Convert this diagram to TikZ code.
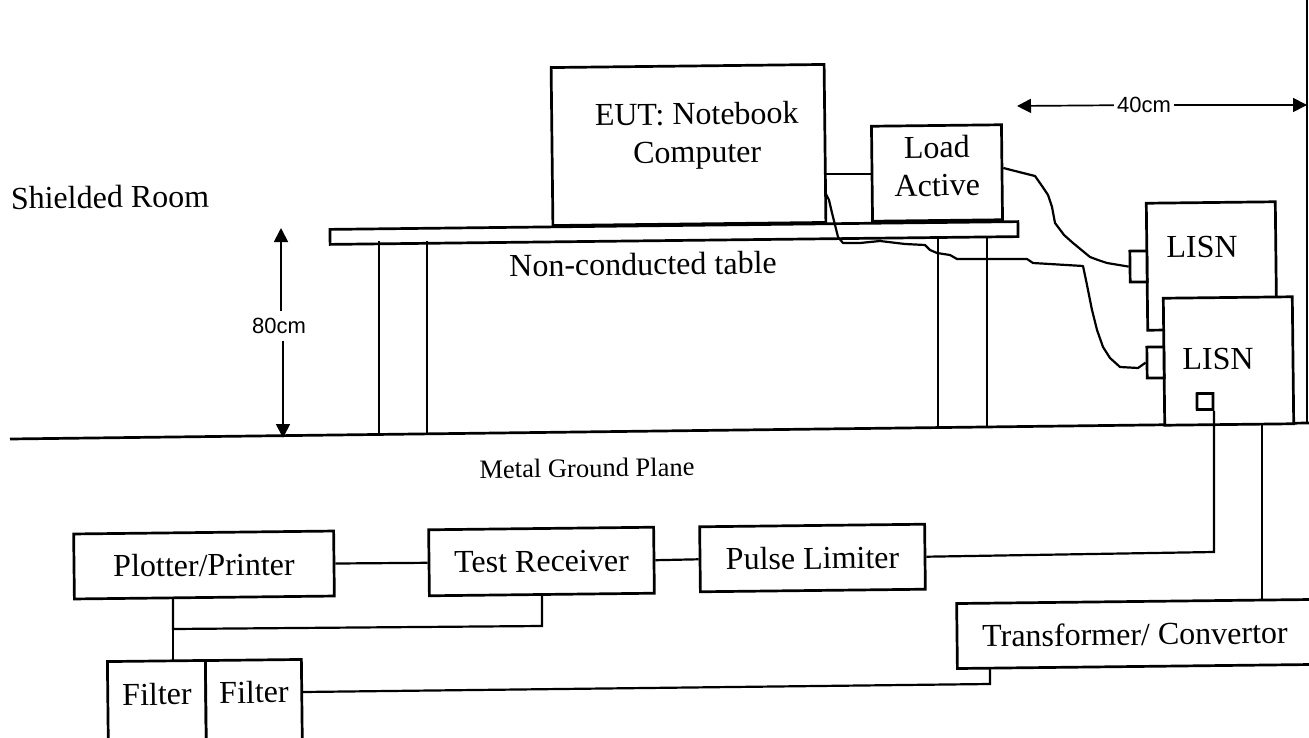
\documentclass[tikz,border=0pt]{standalone}
\usepackage{fontspec}
\setmainfont{Liberation Serif}
\newfontfamily\dimfont{Liberation Sans}
\usetikzlibrary{arrows.meta}
\tikzset{
  boxx/.style={draw=black,fill=white,line width=2.7pt,inner sep=0pt,rotate=0.65,font=\fontsize{32}{38}\selectfont,align=center},
  txt/.style={inner sep=0pt,rotate=0.65,font=\fontsize{32}{38}\selectfont,align=center},
  small/.style={inner sep=0pt,rotate=0.65,font=\fontsize{26.5}{30}\selectfont},
  dimtxt/.style={inner sep=3pt,font=\dimfont\fontsize{22}{24}\selectfont},
  wire/.style={draw=black,line width=2.2pt,line join=miter},
  cable/.style={draw=black,line width=2.2pt,line join=round},
  dimline/.style={draw=black,line width=1.7pt,-{Triangle[length=14pt,width=14pt]}}
}
\begin{document}
\begin{tikzpicture}[x=1pt,y=-1pt]
\useasboundingbox (0,0) rectangle (1309,738);
\clip (0,0) rectangle (1309,738);
% ground and wall
\coordinate (gl) at (10,439);
\coordinate (gr) at (1309,423);
\coordinate (wt) at (1307,0);
\coordinate (wb) at (1307,423);
\draw[wire,line width=2.7pt] (gl) -- (gr);
\draw[wire,line width=2.7pt] (wt) -- (wb);
% table
\node[boxx,minimum width=688pt,minimum height=15pt] (table) at (674,233) {};
\foreach \n/\x/\a/\b in {l1/379/241/436, l2/427/241/435, l3/938/238/429, l4/987/238/428}{
  \coordinate (\n t) at (\x,\a);
  \coordinate (\n b) at (\x,\b);
  \draw[wire,line width=2.5pt] (\n t) -- (\n b);
}
% equipment on the table
\node[boxx,minimum width=273pt,minimum height=158pt] (eut) at (688.5,145) {};
\node[txt] (euttxt) at (697,136) {EUT: Notebook\\Computer};
\node[boxx,minimum width=130pt,minimum height=95pt] (load) at (937,173) {};
\node[txt] (loadtxt) at (937,166) {Load\\Active};
\draw[wire] (eut.east |- load.west) -- (load.west);
% LISNs
\node[boxx,minimum width=129pt,minimum height=127pt] (lisnb) at (1211.5,266) {};
\node[txt] (lisnbtxt) at (1202,247) {LISN};
\node[boxx,minimum width=129pt,minimum height=127pt] (lisnf) at (1228.5,361) {};
\node[txt] (lisnftxt) at (1218,359) {LISN};
\node[boxx,minimum width=17pt,minimum height=31pt] (plugb) at (1138.5,266.5) {};
\node[boxx,minimum width=17pt,minimum height=31pt] (plugf) at (1155.5,362.5) {};
\node[boxx,minimum width=16pt,minimum height=16pt] (sq) at (1205,401.5) {};
% cables
\draw[cable] (load.east |- 0,168) -- (1019,172) -- (1035,176) -- (1042,186) -- (1048,195) -- (1052,207) -- (1055,223) -- (1064,235) -- (1073,243) -- (1090,257) -- (1098,260) -- (1107,263) -- (plugb.west);
\draw[cable] (825,192) -- (829,200) -- (832,213) -- (838,237) -- (843,243) -- (860,243) -- (880,241) -- (905,244) -- (925,245) -- (930,250) -- (937,253) -- (950,255) -- (957,259) -- (1027,259) -- (1033,263) -- (1083,266) -- (1087,285) -- (1092,310) -- (1097,330) -- (1103,347) -- (1110,358) -- (1120,367) -- (1138,368) -- (plugf.west);
% dimensions
\node[dimtxt] (d40) at (1144,105) {40cm};
\coordinate (d40l) at (1017,106);
\coordinate (d40r) at (1307,105);
\draw[dimline] (d40) -- (d40l);
\draw[dimline] (d40) -- (d40r);
\node[dimtxt,inner sep=7pt] (d80) at (279,326) {80cm};
\coordinate (d80t) at (281,228);
\coordinate (d80b) at (283,438);
\draw[dimline] (d80t |- d80.north) -- (d80t);
\draw[dimline] (d80b |- d80.south) -- (d80b);
% labels
\node[txt] (room) at (110,197) {Shielded Room};
\node[txt] (nct) at (643,264) {Non-conducted table};
\node[small] (mgp) at (587,468) {Metal Ground Plane};
% lower chain
\node[boxx,minimum width=260pt,minimum height=65pt] (plot) at (204,565) {Plotter/Printer};
\node[boxx,minimum width=225pt,minimum height=66pt] (recv) at (541.5,561.5) {Test Receiver};
\node[boxx,minimum width=225pt,minimum height=65pt] (pulse) at (812.5,558) {Pulse Limiter};
\node[boxx,minimum width=356pt,minimum height=65pt] (trans) at (1135,634) {Transformer/ Convertor};
\node[boxx,minimum width=98pt,minimum height=110pt] (f1) at (157,716) {};
\node[boxx,minimum width=96pt,minimum height=110pt] (f2) at (254,715) {};
\node[txt] (f1txt) at (157,694) {Filter};
\node[txt] (f2txt) at (254,692) {Filter};
\draw[wire] (plot.east) -- (recv.west);
\draw[wire] (recv.east) -- (pulse.west);
\coordinate (j1) at (173,629);
\coordinate (j2) at (542,626);
\draw[wire] (plot.south -| j1) -- (j1) -- (j2) -- (recv.south -| j2);
\draw[wire] (j1) -- (j1 |- f1.north);
\coordinate (c1) at (1214,552);
\draw[wire] (pulse.east) -- (c1) -- (c1 |- sq.south);
\coordinate (lf) at (1262,425);
\draw[wire] (lf) -- (lf |- trans.north);
\coordinate (f2o) at (303,692);
\coordinate (c2) at (990,684);
\draw[wire] (f2o) -- (c2) -- (c2 |- trans.south);
\end{tikzpicture}
\end{document}
